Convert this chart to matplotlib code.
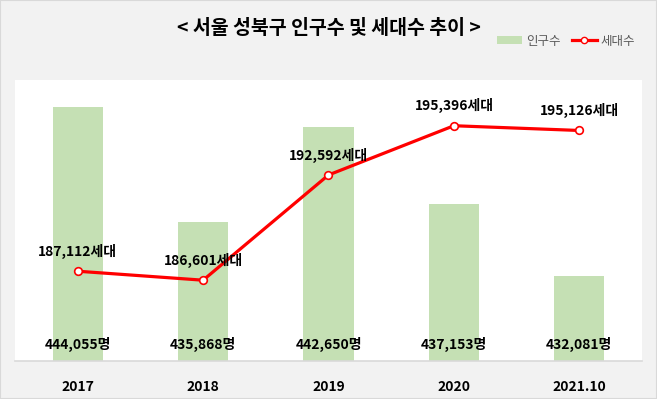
import matplotlib
matplotlib.use("Agg")
import matplotlib.pyplot as plt
from matplotlib.lines import Line2D
from matplotlib.patches import Patch, Rectangle

plt.rcParams['font.family'] = ['Noto Sans CJK KR', 'DejaVu Sans']

years = ["2017", "2018", "2019", "2020", "2021.10"]
population = [444055, 435868, 442650, 437153, 432081]
households = [187112, 186601, 192592, 195396, 195126]

green = "#c5e0b4"
red = "#ff0000"

fig = plt.figure(figsize=(6.57, 3.99), dpi=100, facecolor="#f2f2f2")
fig.patches.append(Rectangle((0, 0), 1, 1, transform=fig.transFigure,
                             fill=False, edgecolor="#d9d9d9", lw=1.5))

ax = fig.add_axes([15 / 657, 38 / 399, 627 / 657, 281 / 399])
ax.set_facecolor("white")
x = list(range(len(years)))
ax.bar(x, population, width=0.4, color=green)
ax.set_ylim(426000, 446000)
ax.set_xlim(-0.5, len(years) - 0.5)

for s in ["top", "left", "right"]:
    ax.spines[s].set_visible(False)
ax.spines["bottom"].set_color("#d9d9d9")
ax.spines["bottom"].set_linewidth(1.2)
ax.set_yticks([])
ax.set_xticks(x)
ax.set_xticklabels(years, fontsize=10, fontweight="bold", color="black")
ax.tick_params(axis="x", length=0, pad=14)

for i, v in enumerate(population):
    ax.annotate(f"{v:,}명", xy=(i, 426000), xytext=(0, 17), textcoords="offset pixels",
                ha="center", va="center", fontsize=10, fontweight="bold", color="black")

ax2 = ax.twinx()
ax2.plot(x, households, color=red, lw=2.3, marker="o", ms=5.5,
         mfc="white", mec=red, mew=1.2)
ax2.set_ylim(182000, 198000)
ax2.set_yticks([])
for s in ["top", "left", "right", "bottom"]:
    ax2.spines[s].set_visible(False)

for i, v in enumerate(households):
    ax2.annotate(f"{v:,}세대", xy=(i, v), xytext=(0, 20), textcoords="offset pixels",
                 ha="center", va="center", fontsize=10, fontweight="bold", color="black")

fig.text(0.5, 1 - 28 / 399, "< 서울 성북구 인구수 및 세대수 추이 >", ha="center", va="center",
         fontsize=14, fontweight="bold", color="black")

handles = [Patch(facecolor=green, edgecolor="none"),
           Line2D([], [], color=red, lw=2.3, marker="o", ms=4.5, mfc="white", mec=red)]
fig.legend(handles, ["인구수", "세대수"], loc="center", bbox_to_anchor=(566 / 657, 1 - 41 / 399),
           ncol=2, frameon=False, fontsize=9, labelcolor="#595959",
           handlelength=2.0, handleheight=0.6, columnspacing=0.9, handletextpad=0.3)

fig.savefig("out.png", dpi=100, facecolor=fig.get_facecolor())
